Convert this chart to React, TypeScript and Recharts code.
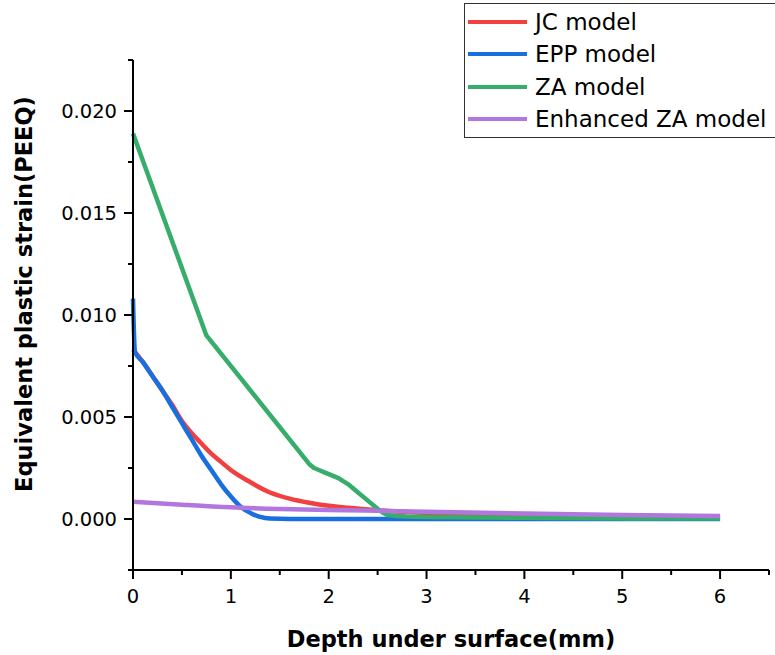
import { LineChart, Line, XAxis, YAxis, Legend, Label } from "recharts";

const jcDepth = [0, 0.1, 0.2, 0.3, 0.4, 0.5, 0.6, 0.7, 0.8, 0.9, 1.0, 1.2, 1.4, 1.6, 1.8, 2.0, 2.2, 2.5, 3, 4, 5, 6];
const jcStrain = [0.0083, 0.0077, 0.007, 0.0063, 0.0056, 0.0048, 0.0042, 0.0037, 0.0032, 0.0028, 0.0024, 0.0018, 0.0013, 0.001, 0.0008, 0.00065, 0.00055, 0.00043, 0.0003, 0.0002, 0.00015, 0.0001];

const eppDepth = [0, 0.02, 0.1, 0.2, 0.3, 0.4, 0.5, 0.6, 0.7, 0.8, 0.9, 1.0, 1.1, 1.2, 1.3, 1.4, 1.6, 2, 3, 4, 5, 6];
const eppStrain = [0.0108, 0.0082, 0.0077, 0.007, 0.0063, 0.0055, 0.0047, 0.0039, 0.0031, 0.0024, 0.0017, 0.0011, 0.0006, 0.0003, 0.0001, 0.00002, 0, 0, 0, 0, 0, 0];

const zaDepth = [0, 0.75, 1.8, 1.85, 1.9, 1.95, 2.0, 2.1, 2.2, 2.3, 2.4, 2.5, 2.55, 2.6, 2.7, 2.8, 3, 4, 5, 6];
const zaStrain = [0.0189, 0.009, 0.0027, 0.0025, 0.0024, 0.0023, 0.0022, 0.002, 0.0017, 0.0013, 0.0009, 0.0005, 0.00032, 0.0002, 0.00015, 0.00012, 0.0001, 0.00006, 0.00003, 0.00002];

const ezaDepth = [0, 0.5, 1, 1.5, 2, 2.5, 3, 4, 5, 6];
const ezaStrain = [0.00085, 0.0007, 0.00057, 0.00049, 0.00044, 0.0004, 0.00035, 0.00027, 0.0002, 0.00015];

const xTicks = [0, 0.5, 1, 1.5, 2, 2.5, 3, 3.5, 4, 4.5, 5, 5.5, 6, 6.5];
const yTicks = [-0.0025, 0, 0.0025, 0.005, 0.0075, 0.01, 0.0125, 0.015, 0.0175, 0.02, 0.0225];

const toPoints = (depth: number[], strain: number[]) =>
  depth.map((d, i) => ({ depth: d, strain: strain[i] }));

const series = [
  { name: "JC model", color: "#F14040", curve: "monotone", data: toPoints(jcDepth, jcStrain) },
  { name: "EPP model", color: "#1A6FDF", curve: "monotone", data: toPoints(eppDepth, eppStrain) },
  { name: "ZA model", color: "#37AD6B", curve: "linear", data: toPoints(zaDepth, zaStrain) },
  { name: "Enhanced ZA model", color: "#B177DE", curve: "monotone", data: toPoints(ezaDepth, ezaStrain) },
];
const seriesOrder = series.map((s) => s.name);

const FONT = "DejaVu Sans";

function XTick({ x, y, payload }: any) {
  const v = payload.value;
  const major = Math.abs(v - Math.round(v)) < 1e-9;
  return (
    <g>
      <line x1={x} x2={x} y1={y} y2={y + (major ? 9 : 5)} stroke="#000" strokeWidth={2} />
      {major && (
        <text x={x} y={y + 33} textAnchor="middle" fontSize={19.5} fontFamily={FONT} fill="#000">
          {v}
        </text>
      )}
    </g>
  );
}

function YTick({ x, y, payload }: any) {
  const v = payload.value;
  const r = v / 0.005;
  const major = Math.abs(r - Math.round(r)) < 1e-6;
  return (
    <g>
      <line x1={x - (major ? 9 : 5)} x2={x} y1={y} y2={y} stroke="#000" strokeWidth={2} />
      {major && (
        <text x={x - 16} y={y + 7} textAnchor="end" fontSize={19.5} fontFamily={FONT} fill="#000">
          {v.toFixed(3)}
        </text>
      )}
    </g>
  );
}

function XTitle({ viewBox }: any) {
  const cx = viewBox.x + viewBox.width / 2;
  return (
    <text x={cx} y={647} textAnchor="middle" fontSize={22.5} fontWeight="bold" fontFamily={FONT} fill="#000">
      Depth under surface(mm)
    </text>
  );
}

function YTitle({ viewBox }: any) {
  const cx = 32;
  const cy = viewBox.y + viewBox.height / 2 - 21;
  return (
    <text
      x={cx}
      y={cy}
      transform={`rotate(-90 ${cx} ${cy})`}
      textAnchor="middle"
      fontSize={22.5}
      fontWeight="bold"
      fontFamily={FONT}
      fill="#000"
    >
      Equivalent plastic strain(PEEQ)
    </text>
  );
}

function LegendBox({ payload }: any) {
  const items = [...(payload || [])].sort(
    (a: any, b: any) => seriesOrder.indexOf(a.value) - seriesOrder.indexOf(b.value)
  );
  return (
    <div
      style={{
        border: "1px solid #333",
        background: "#fff",
        width: 330,
        padding: "2px 0 2px 3px",
        boxSizing: "border-box",
      }}
    >
      {items.map((p: any) => (
        <div key={p.value} style={{ display: "flex", alignItems: "center", height: 32.3 }}>
          <svg width={59} height={6} style={{ display: "block" }}>
            <line x1={0} x2={59} y1={3} y2={3} stroke={p.color} strokeWidth={4} />
          </svg>
          <span style={{ marginLeft: 8, fontFamily: FONT, fontSize: 23, lineHeight: "32px", color: "#000", whiteSpace: "nowrap" }}>
            {p.value}
          </span>
        </div>
      ))}
    </div>
  );
}

export default function App() {
  return (
    <div style={{ position: "absolute", left: 0, top: 0, width: 775, height: 655, overflow: "hidden", background: "#fff" }}>
      <LineChart width={775} height={655} margin={{ top: 60, right: 6, left: 0, bottom: 0 }}>
        <XAxis
          dataKey="depth"
          type="number"
          domain={[0, 6.5]}
          ticks={xTicks}
          interval={0}
          height={85}
          tickSize={0}
          tickMargin={0}
          tickLine={false}
          tick={<XTick />}
          axisLine={{ stroke: "#000", strokeWidth: 2 }}
          allowDuplicatedCategory={false}
        >
          <Label content={<XTitle />} />
        </XAxis>
        <YAxis
          type="number"
          domain={[-0.0025, 0.0225]}
          ticks={yTicks}
          interval={0}
          width={133}
          tickSize={0}
          tickMargin={0}
          tickLine={false}
          tick={<YTick />}
          axisLine={{ stroke: "#000", strokeWidth: 2 }}
          allowDataOverflow
        >
          <Label content={<YTitle />} />
        </YAxis>
        <Legend
          layout="vertical"
          align="center"
          verticalAlign="middle"
          content={<LegendBox />}
          wrapperStyle={{ position: "absolute", top: 3, left: 464, width: 330, height: "auto" }}
        />
        {series.map((s) => (
          <Line
            key={s.name}
            data={s.data}
            dataKey="strain"
            name={s.name}
            type={s.curve as any}
            stroke={s.color}
            strokeWidth={4.5}
            strokeLinejoin="round"
            dot={false}
            activeDot={false}
            isAnimationActive={false}
          />
        ))}
      </LineChart>
    </div>
  );
}
